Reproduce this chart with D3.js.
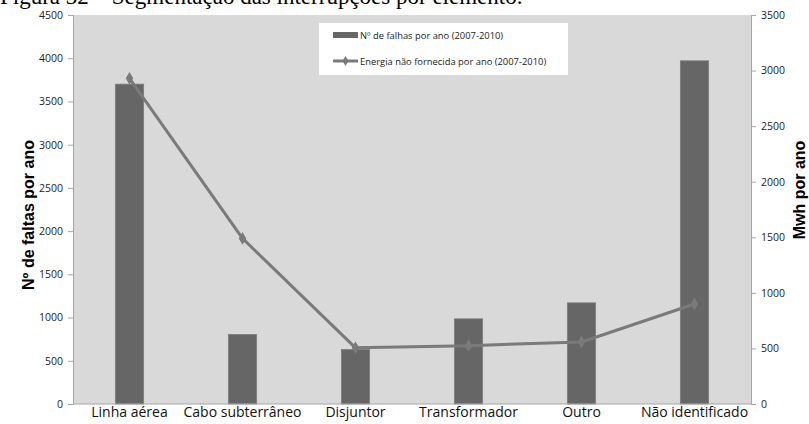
<!DOCTYPE html>
<html>
<head>
<meta charset="utf-8">
<script src="https://cdn.jsdelivr.net/npm/d3@7"></script>
<style>
  html, body { margin: 0; padding: 0; background: #ffffff; }
  svg { display: block; }
</style>
</head>
<body>
<svg id="chart" width="809" height="424"></svg>
<script>
// Categories and series
const categories = ["Linha aérea", "Cabo subterrâneo", "Disjuntor", "Transformador", "Outro", "Não identificado"];
const faultsPerYear = [3700, 805, 630, 985, 1170, 3970];     // Nº de falhas por ano (left axis)
const energyPerYear = [2930, 1490, 505, 525, 558, 900];      // Energia não fornecida, MWh (right axis)
const leftTicks = [0, 500, 1000, 1500, 2000, 2500, 3000, 3500, 4000, 4500];
const rightTicks = [0, 500, 1000, 1500, 2000, 2500, 3000, 3500];
const seriesNames = ["Nº de falhas por ano (2007-2010)", "Energia não fornecida por ano (2007-2010)"];

const svg = d3.select("#chart");
const plot = { left: 73, right: 751, top: 15, bottom: 404 };

const tickFont = "'Open Sans', 'Liberation Sans', sans-serif";
const barColor = "#666666";
const lineColor = "#7a7a7a";
const axisColor = "#a6a6a6";

// Caption (partly cut at the top edge)
svg.append("text")
  .attr("x", 0).attr("y", 4)
  .attr("font-family", "'Liberation Serif', 'Times New Roman', serif")
  .attr("font-size", 23)
  .attr("fill", "#000")
  .text("Figura 32 – Segmentação das interrupções por elemento.");

// Scales
const x = d3.scaleBand().domain(categories).range([plot.left, plot.right]).paddingInner(0.75).paddingOuter(0.375);
const yL = d3.scaleLinear().domain([0, 4500]).range([plot.bottom, plot.top]);
const yR = d3.scaleLinear().domain([0, 3500]).range([plot.bottom, plot.top]);

// Plot area background
svg.append("rect")
  .attr("x", plot.left).attr("y", plot.top)
  .attr("width", plot.right - plot.left).attr("height", plot.bottom - plot.top)
  .attr("fill", "#d9d9d9");

// Bars
svg.append("g").selectAll("rect")
  .data(categories)
  .join("rect")
  .attr("x", d => x(d))
  .attr("width", x.bandwidth())
  .attr("y", (d, i) => yL(faultsPerYear[i]))
  .attr("height", (d, i) => yL(0) - yL(faultsPerYear[i]))
  .attr("fill", barColor)
  .attr("stroke", "#7d7d7d")
  .attr("stroke-width", 0.8);

// Line series with diamond markers
const pts = categories.map((c, i) => [x(c) + x.bandwidth() / 2, yR(energyPerYear[i])]);
svg.append("path")
  .attr("d", d3.line()(pts))
  .attr("fill", "none")
  .attr("stroke", lineColor)
  .attr("stroke-width", 3)
  .attr("stroke-linejoin", "round");
const diamond = d3.symbol().type(d3.symbolDiamond).size(48);
svg.append("g").selectAll("path")
  .data(pts)
  .join("path")
  .attr("transform", d => `translate(${d[0]},${d[1]})`)
  .attr("d", diamond)
  .attr("fill", lineColor);

// Left axis
const gL = svg.append("g").attr("transform", `translate(${plot.left},0)`)
  .call(d3.axisLeft(yL).tickValues(leftTicks).tickSize(5).tickPadding(5).tickFormat(d3.format("d")));
// Right axis
const gR = svg.append("g").attr("transform", `translate(${plot.right},0)`)
  .call(d3.axisRight(yR).tickValues(rightTicks).tickSize(5).tickPadding(5).tickFormat(d3.format("d")));
// Bottom axis
const gB = svg.append("g").attr("transform", `translate(0,${plot.bottom})`)
  .call(d3.axisBottom(x).tickSize(0).tickPadding(3));

[gL, gR, gB].forEach(g => {
  g.select(".domain").attr("stroke", axisColor).attr("stroke-width", 1);
  g.selectAll(".tick line").attr("stroke", axisColor);
  g.selectAll("text").attr("fill", "#222").attr("font-family", tickFont);
});
gL.selectAll("text").attr("font-size", 10.5);
gR.selectAll("text").attr("font-size", 10.5);
gB.selectAll("text").attr("font-size", 14).attr("fill", "#111");
gB.select(".domain").attr("d", `M${plot.left},0H${plot.right}`);

// Axis titles
svg.append("text")
  .attr("transform", `translate(34,215) rotate(-90)`)
  .attr("text-anchor", "middle")
  .attr("font-family", "'Liberation Sans', Arial, sans-serif")
  .attr("font-weight", "bold").attr("font-size", 16)
  .attr("fill", "#000")
  .text("Nº de faltas por ano");
svg.append("text")
  .attr("transform", `translate(805,190) rotate(-90)`)
  .attr("text-anchor", "middle")
  .attr("font-family", "'Liberation Sans', Arial, sans-serif")
  .attr("font-weight", "bold").attr("font-size", 16)
  .attr("fill", "#000")
  .text("Mwh por ano");

// Legend
const lg = svg.append("g");
lg.append("rect").attr("x", 319).attr("y", 23).attr("width", 249).attr("height", 52).attr("fill", "#ffffff");
lg.append("rect").attr("x", 333).attr("y", 32).attr("width", 25).attr("height", 6).attr("fill", barColor);
lg.append("text").attr("x", 360).attr("y", 38.5)
  .attr("font-family", tickFont).attr("font-size", 9.4).attr("fill", "#222")
  .text(seriesNames[0]);
lg.append("line").attr("x1", 333).attr("x2", 358).attr("y1", 61).attr("y2", 61)
  .attr("stroke", lineColor).attr("stroke-width", 3);
lg.append("path").attr("transform", "translate(345.5,61)").attr("d", d3.symbol().type(d3.symbolDiamond).size(30)).attr("fill", lineColor);
lg.append("text").attr("x", 360).attr("y", 64.5)
  .attr("font-family", tickFont).attr("font-size", 9.4).attr("fill", "#222")
  .text(seriesNames[1]);
</script>
</body>
</html>
